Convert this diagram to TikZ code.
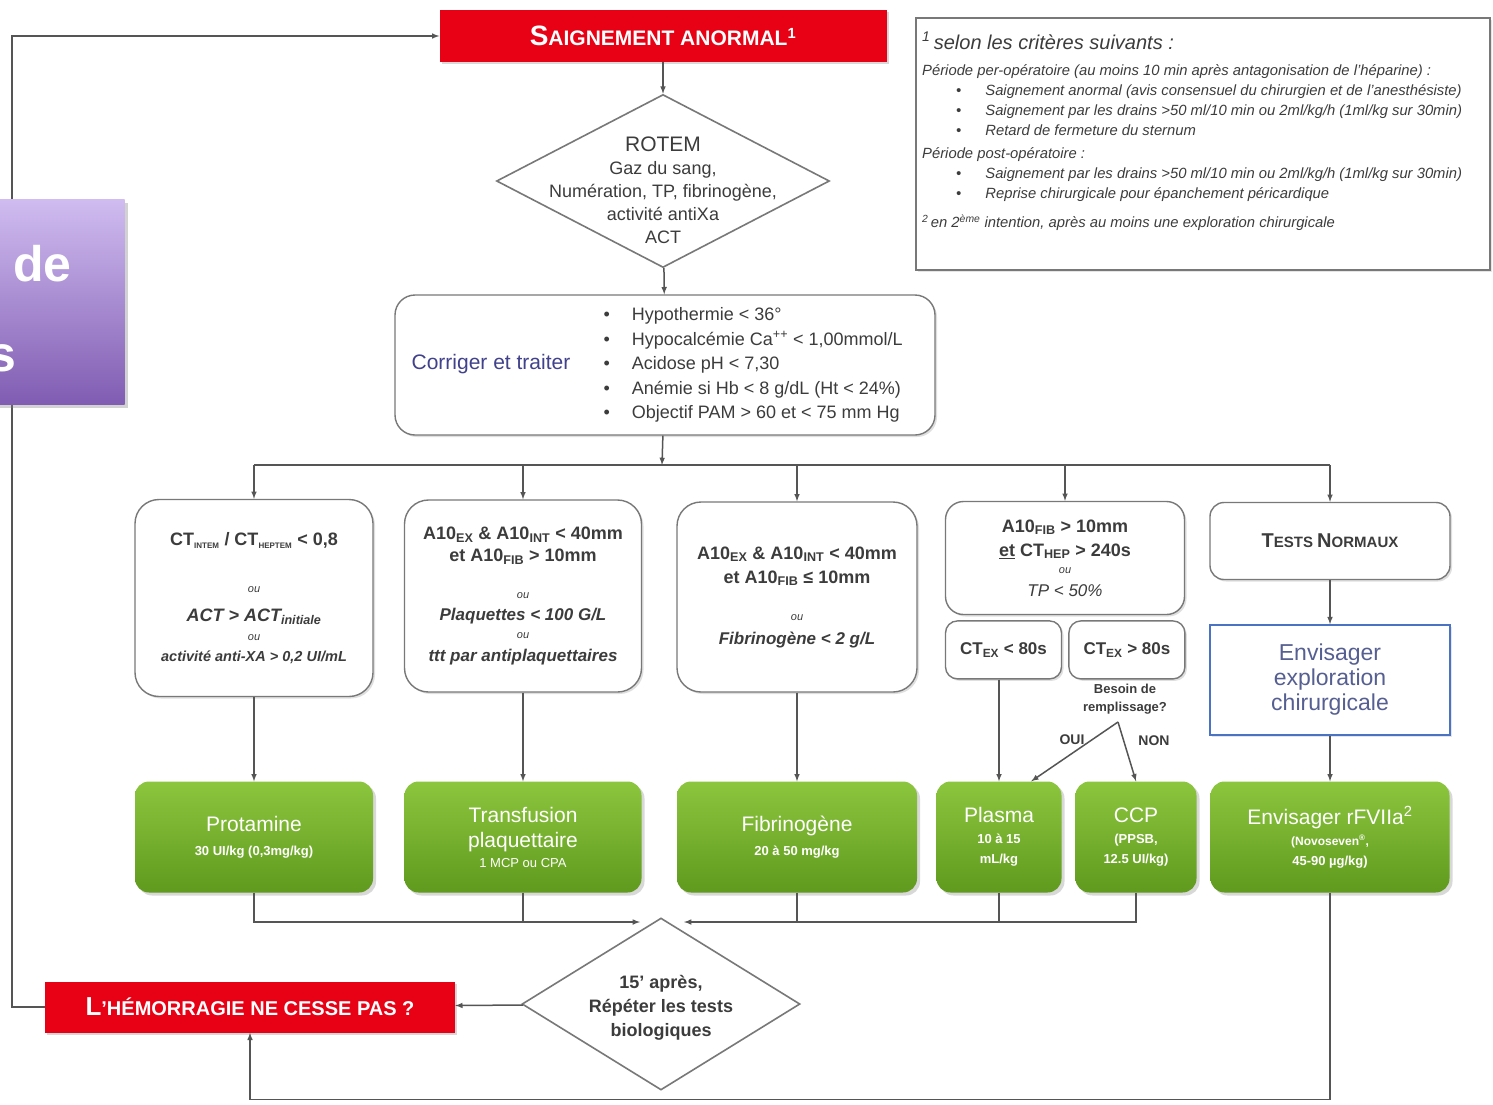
\documentclass[tikz,border=0pt]{standalone}
\usepackage{fontspec}
\setmainfont{Liberation Sans}
\usetikzlibrary{positioning,shapes.geometric,shadows}

\definecolor{rouge}{RGB}{232,0,20}
\definecolor{vertclair}{RGB}{140,198,62}
\definecolor{vertfonce}{RGB}{96,154,30}
\definecolor{gristrait}{RGB}{85,85,85}
\definecolor{bord}{RGB}{120,120,120}
\definecolor{texte}{RGB}{60,60,60}
\definecolor{bleubord}{RGB}{75,115,195}
\definecolor{bleutexte}{RGB}{85,95,145}
\definecolor{indigo}{RGB}{65,65,140}
\definecolor{violetclair}{RGB}{208,188,240}
\definecolor{violetfonce}{RGB}{128,92,178}

\newcommand{\fz}[2]{\fontsize{#1}{#2}\selectfont}
\newcommand{\ind}[1]{\textsubscript{\fz{8}{8}#1}}

\begin{document}
\begin{tikzpicture}[x=1pt,y=-1pt,
    titre/.style={rectangle,fill=rouge,text=white,font=\bfseries,inner sep=0pt,
      drop shadow={shadow xshift=2pt,shadow yshift=-2pt,opacity=0.3}},
    losange/.style={diamond,draw=bord,line width=1.6pt,fill=white,inner sep=0pt},
    critere/.style={rectangle,rounded corners=24pt,draw=bord,line width=1.4pt,fill=white,
      text=texte,align=center,inner sep=0pt,
      drop shadow={shadow xshift=2pt,shadow yshift=-2pt,opacity=0.25}},
    petit/.style={critere,rounded corners=12pt,minimum width=116,minimum height=58,
      font=\bfseries\fz{17}{20}},
    soin/.style={rectangle,rounded corners=14pt,top color=vertclair,bottom color=vertfonce,
      text=white,align=center,inner sep=0pt,minimum height=111,font=\bfseries\fz{13}{22},
      drop shadow={shadow xshift=3pt,shadow yshift=-3pt,opacity=0.3}},
    arr/.style={-latex,line width=1.5pt,draw=gristrait},
    ligne/.style={line width=1.5pt,draw=gristrait}
    ]
  \useasboundingbox (0,0) rectangle (1493,1104);
  \fill[white] (0,0) rectangle (1493,1104);

  % haut
  \node (saign) [titre,minimum width=447,minimum height=52] at (663,36)
    {\fz{28}{30}S\fz{21}{24}AIGNEMENT ANORMAL\textsuperscript{1}};
  \node (rotem) [losange,minimum width=333,minimum height=173] at (663,181) {};
  \node (rotemtxt) [align=center,text=texte,font=\fz{18}{23}] at (663,190)
    {{\fz{21}{23}ROTEM}\\Gaz du sang,\\Numération, TP, fibrinogène,\\activité antiXa\\ACT};

  \node (corriger) [critere,rounded corners=20pt,minimum width=540,minimum height=140] at (665,365) {};
  \node (corrtitre) [text=indigo,font=\fz{21}{24}] at (491,364) {Corriger et traiter};
  \node (corrliste) [anchor=west,align=left,text=texte,font=\fz{18}{24.5}] at (600,365)
    {\textbullet\hspace{22pt}Hypothermie < 36°\\
     \textbullet\hspace{22pt}Hypocalcémie Ca\textsuperscript{++} < 1,00mmol/L\\
     \textbullet\hspace{22pt}Acidose pH < 7,30\\
     \textbullet\hspace{22pt}Anémie si Hb < 8 g/dL (Ht < 24\%)\\
     \textbullet\hspace{22pt}Objectif PAM > 60 et < 75 mm Hg};

  % notes
  \node (notes) [rectangle,draw=bord,line width=1.2pt,fill=white,minimum width=574,minimum height=252,
    drop shadow={shadow xshift=2pt,shadow yshift=-2pt,opacity=0.2}] at (1203,144) {};
  \node (notestxt) [anchor=north west,align=left,text=texte,font=\itshape\fz{14.8}{20},inner sep=0pt] at (922,32)
    {{\fz{20}{20}\textsuperscript{1}\,selon les critères suivants :}\\[6pt]
     Période per-opératoire (au moins 10 min après antagonisation de l'héparine) :\\
     \hspace*{34pt}\textbullet\hspace{24pt}Saignement anormal (avis consensuel du chirurgien et de l'anesthésiste)\\
     \hspace*{34pt}\textbullet\hspace{24pt}Saignement par les drains >50 ml/10 min ou 2ml/kg/h (1ml/kg sur 30min)\\
     \hspace*{34pt}\textbullet\hspace{24pt}Retard de fermeture du sternum\\[3pt]
     Période post-opératoire :\\
     \hspace*{34pt}\textbullet\hspace{24pt}Saignement par les drains >50 ml/10 min ou 2ml/kg/h (1ml/kg sur 30min)\\
     \hspace*{34pt}\textbullet\hspace{24pt}Reprise chirurgicale pour épanchement péricardique\\[9pt]
     \textsuperscript{2}\,en 2\textsuperscript{ème} intention, après au moins une exploration chirurgicale};

  % criteres
  \node (condprot) [critere,minimum width=238,minimum height=197,font=\fz{16}{20}] at (254,598)
    {{\bfseries\fz{18}{20}CT\ind{INTEM} / CT\ind{HEPTEM} < 0,8}\\[27pt]
     {\itshape\fz{11}{12}ou}\\[9pt]
     {\bfseries\itshape\fz{18}{20}ACT > ACT\textsubscript{initiale}}\\[-1pt]
     {\itshape\fz{11}{12}ou}\\[1pt]
     {\bfseries\itshape\fz{14.5}{15}activité anti-XA > 0,2 UI/mL}};
  \node (condplaq) [critere,minimum width=237,minimum height=192,font=\fz{17}{21}] at (523,596)
    {{\bfseries\fz{18}{20}A10\textsubscript{EX} \& A10\textsubscript{INT} < 40mm}\\[1pt]
     {\bfseries\fz{18}{20}et A10\textsubscript{FIB} > 10mm}\\[16pt]
     {\itshape\fz{11}{12}ou}\\[1pt]
     {\bfseries\itshape Plaquettes < 100 G/L}\\[-3pt]
     {\itshape\fz{11}{12}ou}\\[2pt]
     {\bfseries\itshape ttt par antiplaquettaires}};
  \node (condfib) [critere,minimum width=240,minimum height=190,font=\fz{17}{21}] at (797,597)
    {{\bfseries\fz{18}{20}A10\textsubscript{EX} \& A10\textsubscript{INT} < 40mm}\\[3pt]
     {\bfseries\fz{18}{20}et A10\textsubscript{FIB} ≤ 10mm}\\[16pt]
     {\itshape\fz{11}{12}ou}\\[3pt]
     {\bfseries\itshape Fibrinogène < 2 g/L}};
  \node (condplasma) [critere,rounded corners=18pt,minimum width=239,minimum height=113,font=\fz{17}{21}] at (1065,558)
    {{\bfseries\fz{18}{20}A10\textsubscript{FIB} > 10mm}\\[3pt]
     {\bfseries\fz{18}{20}\underline{et} CT\textsubscript{HEP} > 240s}\\[-4pt]
     {\itshape\fz{11}{12}ou}\\[2pt]
     {\itshape TP < 50\%}};
  \node (ctinf) [petit,below=5pt of condplasma.south west,anchor=north west] {CT\textsubscript{EX} < 80s};
  \node (ctsup) [petit,right=6pt of ctinf] {CT\textsubscript{EX} > 80s};
  \node (besoin) [align=center,text=texte,font=\bfseries\fz{13}{18}] at (1125,699) {Besoin de\\remplissage?};
  \coordinate (fourche) at (1118,722);
  \node (oui) [text=texte,font=\bfseries\fz{14}{16}] at (1072,740) {OUI};
  \node (non) [text=texte,font=\bfseries\fz{14}{16}] at (1154,741) {NON};

  \node (normaux) [critere,rounded corners=14pt,minimum width=240,minimum height=77,font=\bfseries] at (1330,541)
    {\fz{20}{22}T\fz{15}{18}ESTS \fz{20}{22}N\fz{15}{18}ORMAUX};
  \node (explo) [rectangle,draw=bleubord,line width=1.6pt,fill=white,minimum width=240,minimum height=110,
    text=bleutexte,align=center,font=\fz{23}{25},
    drop shadow={shadow xshift=2pt,shadow yshift=-2pt,opacity=0.2}] at (1330,680)
    {Envisager\\exploration\\chirurgicale};

  % traitements
  \node (protamine) [soin,minimum width=238] at (254,837) {{\mdseries\fz{21}{22}Protamine}\\[2pt]30 UI/kg (0,3mg/kg)};
  \node (plaquettes) [soin,minimum width=237] at (523,837) {{\mdseries\fz{21}{25}Transfusion}\\[3pt]{\mdseries\fz{21}{25}plaquettaire}\\[-2pt]{\mdseries 1 MCP ou CPA}};
  \node (fibrino) [soin,minimum width=240] at (797,837) {{\mdseries\fz{21}{22}Fibrinogène}\\[2pt]20 à 50 mg/kg};
  \node (plasma) [soin,minimum width=125] at (999,837) {{\mdseries\fz{21}{22}Plasma}\\[-1pt]10 à 15\\[-2pt]mL/kg};
  \node (ccp) [soin,minimum width=121] at (1136,837) {{\mdseries\fz{21}{22}CCP}\\[-1pt](PPSB,\\[-2pt]12.5 UI/kg)};
  \node (rfviia) [soin,minimum width=239] at (1330,837) {{\mdseries\fz{21}{22}Envisager rFVIIa\textsuperscript{2}}\\[-1pt]{\fz{12}{20}(Novoseven\textsuperscript{®},}\\[-2pt]45-90 µg/kg)};

  % bas
  \node (repeter) [losange,minimum width=278,minimum height=172] at (661,1004) {};
  \node (repetertxt) [align=center,text=texte,font=\bfseries\fz{18}{24}] at (661,1008)
    {15' après,\\Répéter les tests\\biologiques};
  \node (cesse) [titre,minimum width=410,minimum height=51] at (250,1007)
    {\fz{26}{28}L\fz{20}{24}'HÉMORRAGIE NE CESSE PAS ?};
  \coordinate (busG) at (640,922);
  \coordinate (busD) at (684,922);
  \coordinate (bus) at (662,465);

  % connecteurs
  \draw[arr] (saign) -- (rotem);
  \draw[arr] (rotem) -- (corriger);
  \draw[arr] (corriger) -- (bus);
  \draw[ligne] (condprot.north|-bus) -- (normaux.north|-bus);
  \foreach \c in {condprot,condplaq,condfib,condplasma,normaux}
    \draw[arr] (\c.north|-bus) -- (\c.north);
  \draw[arr] (condprot) -- (protamine);
  \draw[arr] (condplaq) -- (plaquettes);
  \draw[arr] (condfib) -- (fibrino);
  \draw[arr] (plasma.north|-ctinf.south) -- (plasma.north);
  \draw[arr] (fourche) -- (plasma.60);
  \draw[arr] (fourche) -- (ccp.north);
  \draw[arr] (normaux) -- (explo);
  \draw[arr] (explo) -- (rfviia);
  \draw[arr] (protamine.south) |- (busG);
  \draw[ligne] (plaquettes.south) -- (plaquettes.south|-busG);
  \draw[arr] (ccp.south) |- (busD);
  \draw[ligne] (fibrino.south) -- (fibrino.south|-busD);
  \draw[ligne] (plasma.south) -- (plasma.south|-busD);
  \draw[arr] (repeter) -- (cesse);
  \draw[arr] (rfviia.south) -- ++(0,207) -| (cesse.south);
  \draw[arr] (cesse.west) -- ++(-33,0) |- (saign.west);

  % bandeau violet coupe a gauche
  \node (bandeau) [rectangle,top color=violetclair,bottom color=violetfonce,
    minimum width=165,minimum height=205,
    drop shadow={shadow xshift=3pt,shadow yshift=-3pt,opacity=0.35}] at (42,302) {};
  \node (bandeaude) [text=white,font=\bfseries\fz{50}{50},anchor=west,inner sep=0pt] at (13,264) {de};
  \node (bandeaus) [text=white,font=\bfseries\fz{50}{50},anchor=east,inner sep=0pt] at (17,358) {s};
\end{tikzpicture}
\end{document}
